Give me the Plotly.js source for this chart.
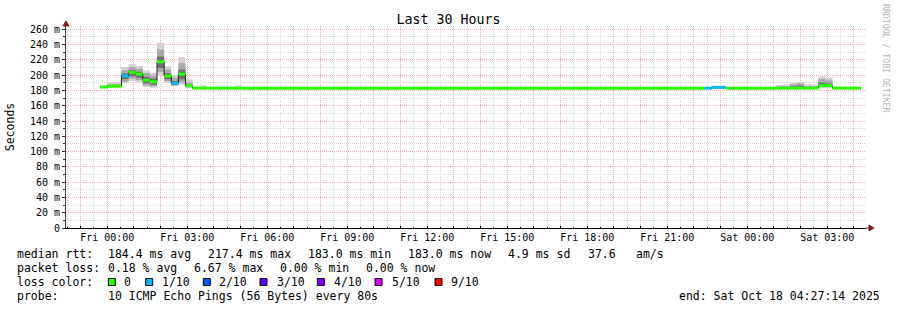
<!DOCTYPE html>
<html>
<head>
<meta charset="utf-8">
<script src="https://cdn.plot.ly/plotly-3.0.1.min.js"></script>
<style>html,body{margin:0;padding:0;background:#fff;}#chart{width:897px;height:310px;}</style>
</head>
<body>
<div id="chart"></div>
<script>
// ---------- data ----------
// start of each constant RRD interval (16-min steps, runs of equal values merged)
const stepStart = [
  '2025-10-16 23:44','2025-10-17 00:00','2025-10-17 00:16','2025-10-17 00:32','2025-10-17 00:48',
  '2025-10-17 01:04','2025-10-17 01:20','2025-10-17 01:36','2025-10-17 01:52','2025-10-17 02:08',
  '2025-10-17 02:24','2025-10-17 02:40','2025-10-17 02:56','2025-10-17 03:12','2025-10-17 03:28',
  '2025-10-17 03:44','2025-10-17 04:48','2025-10-17 05:04','2025-10-17 22:24','2025-10-17 22:40',
  '2025-10-17 23:12','2025-10-18 01:04','2025-10-18 01:20','2025-10-18 01:36','2025-10-18 01:52',
  '2025-10-18 02:08','2025-10-18 02:24','2025-10-18 02:40','2025-10-18 02:56','2025-10-18 03:12'
];
const dataEnd = '2025-10-18 04:16';
const windowStart = '2025-10-16 22:27:14';
const windowEnd = '2025-10-18 04:27:14';

// median rtt (ms)
const medianRtt = [184.5,185.5,185.5,199.2,203.5,201.3,193.4,191.3,217.4,198.7,
                   189.5,201.3,186.0,183.0,183.0,183.0,183.0,183.0,183.0,184.0,
                   183.0,183.0,183.0,183.0,183.0,183.0,183.0,186.3,186.3,183.0];
// lost pings out of 10
const lostPings = [0,0,0,1,0,0,0,0,0,0, 1,0,0,0,0,0,0,0,1,1, 0,0,0,0,0,0,0,0,0,0];
// smoke: sorted-ping envelopes (outer, middle, inner)
const smokeLo1 = [183.5,184.0,184.0,189.5,192.5,191.0,184.5,183.5,200.5,190.0,
                  185.5,187.5,183.5,183.0,183.0,183.0,183.0,183.0,183.0,183.0,
                  183.0,183.0,183.0,183.0,183.0,183.0,183.0,183.5,183.5,183.0];
const smokeLo2 = [184.0,184.5,184.5,191.5,195.5,193.5,186.5,185.5,204.5,192.5,
                  186.5,190.5,184.0,183.0,183.0,183.0,183.0,183.0,183.0,183.0,
                  183.0,183.0,183.0,183.0,183.0,183.0,183.0,184.0,184.0,183.0];
const smokeLo3 = [184.2,185.0,185.0,194.5,198.5,196.5,189.5,187.5,209.5,194.5,
                  187.5,194.5,184.5,183.0,183.0,183.0,183.0,183.0,183.0,183.5,
                  183.0,183.0,183.0,183.0,183.0,183.0,183.0,185.0,185.0,183.0];
const smokeHi3 = [185.0,186.5,186.5,202.5,206.5,204.5,197.5,195.5,224.5,202.5,
                  192.5,207.5,187.5,183.0,183.0,183.0,183.0,183.0,183.0,184.0,
                  183.0,183.0,183.0,185.5,186.0,183.0,183.0,190.0,189.0,183.0];
const smokeHi2 = [185.5,188.0,188.0,206.5,210.5,208.5,202.5,199.5,233.5,207.5,
                  196.5,215.5,190.5,183.0,184.0,183.0,184.0,183.0,183.0,184.5,
                  183.0,185.0,185.5,188.0,189.0,185.5,185.0,195.0,193.0,183.5];
const smokeHi1 = [186.5,190.5,191.0,210.5,214.5,212.0,206.0,203.0,242.5,211.5,
                  200.0,223.5,194.5,183.5,186.5,183.5,186.5,183.5,183.5,185.0,
                  183.5,187.0,188.0,190.0,191.0,188.0,187.5,198.5,197.0,184.0];

const lossLevels = [0,1,2,3,4,5,9];
const lossLabels = ['0','1/10','2/10','3/10','4/10','5/10','9/10'];
const lossColors = ['#26ff00','#00b8ff','#0059ff','#5e00ff','#7e00ff','#dd00ff','#ff0000'];

const yTickVals = [0,20,40,60,80,100,120,140,160,180,200,220,240,260];
const yTickText = ['0','20 m','40 m','60 m','80 m','100 m','120 m','140 m','160 m','180 m','200 m','220 m','240 m','260 m'];

const statsLine1 = [['median rtt:',16],['184.4 ms avg',107.3],['217.4 ms max',207.3],['183.0 ms min',307.3],
                    ['183.0 ms now',407.3],['4.9 ms sd',506.7],['37.6',586.7],['am/s',635]];
const statsLine2 = [['packet loss:',16],['0.18 % avg',107.3],['6.67 % max',192.7],['0.00 % min',279.3],['0.00 % now',365]];
const probeLine = [['probe:',16],['10 ICMP Echo Pings (56 Bytes) every 80s',107.3],['end: Sat Oct 18 04:27:14 2025',678.3]];
const swatchX = [108.3,145.7,203.3,260,317.3,375,435];
const swatchLabelX = [123.3,160.7,218.3,276,333.3,390.7,450];

// ---------- layout constants ----------
const FONT = 'DejaVu Sans Mono';
const W = 897, H = 310, ML = 66, MR = 31, MT = 26, MB = 82;
const PW = W - ML - MR, PH = H - MT - MB;
const px2x = p => (p - ML) / PW;
const py2y = p => (H - MB - p) / PH;

// ---------- x ticks: hourly grid, labels every 3 hours ----------
const dayNames = {16:'Thu',17:'Fri',18:'Sat'};
const xTickVals = [], xTickText = [];
for (let h = -1; h <= 28; h++) {
  const day = h < 0 ? 16 : (h < 24 ? 17 : 18);
  const hh = ((h % 24) + 24) % 24;
  const hs = String(hh).padStart(2,'0');
  xTickVals.push('2025-10-' + day + ' ' + hs + ':00');
  xTickText.push(hh % 3 === 0 ? dayNames[day] + ' ' + hs + ':00' : '');
}

// ---------- traces ----------
const n = stepStart.length;
const xs = stepStart.concat([dataEnd]);
const ext = a => a.concat([a[a.length-1]]);
const traces = [];
function band(lo, hi, color) {
  traces.push({x: xs, y: ext(lo), mode:'lines', line:{width:0, shape:'hv'}, hoverinfo:'skip', showlegend:false});
  traces.push({x: xs, y: ext(hi), mode:'lines', line:{width:0, shape:'hv'}, fill:'tonexty', fillcolor: color, hoverinfo:'skip', showlegend:false});
}
band(smokeLo1, smokeHi1, '#d2d2d2');
band(smokeLo2, smokeHi2, '#a8a8a8');
band(smokeLo3, smokeHi3, '#727272');

traces.push({x: xs, y: ext(medianRtt), mode:'lines', line:{color:'#202020', width:1, shape:'hv'}, hoverinfo:'skip', showlegend:false});

lossLevels.forEach((lv, k) => {
  const sx = [], sy = [];
  for (let i = 0; i < n; i++) {
    if (lostPings[i] !== lv) continue;
    sx.push(stepStart[i], i + 1 < n ? stepStart[i+1] : dataEnd, null);
    sy.push(medianRtt[i], medianRtt[i], null);
  }
  if (sx.length) traces.push({x: sx, y: sy, mode:'lines', line:{color: lossColors[k], width:3}, name: lossLabels[k], showlegend:false});
});

// ---------- annotations ----------
const annotations = [];
function txt(text, px, py, size, extra) {
  annotations.push(Object.assign({text, xref:'paper', yref:'paper', x: px2x(px - 1), y: py2y(py),
    xanchor:'left', yanchor:'middle', showarrow:false, font:{family:FONT, size: size || 11.5, color:'#000'}}, extra || {}));
}
statsLine1.forEach(([t, p]) => txt(t, p, 254));
statsLine2.forEach(([t, p]) => txt(t, p, 268));
txt('loss color:', 16, 282);
lossLabels.forEach((t, k) => txt(t, swatchLabelX[k], 282));
probeLine.forEach(([t, p]) => txt(t, p, 296));
annotations.push({text:'RRDTOOL / TOBI OETIKER', xref:'paper', yref:'paper', x: px2x(886), y: py2y(59),
  xanchor:'center', yanchor:'middle', textangle:90, showarrow:false, font:{family:FONT, size:8.2, color:'#b4b4b4'}});

// ---------- shapes: loss swatches and axis arrows ----------
const shapes = [];
lossColors.forEach((c, k) => {
  shapes.push({type:'rect', xref:'paper', yref:'paper', x0: px2x(swatchX[k]), x1: px2x(swatchX[k] + 7),
    y0: py2y(278.5), y1: py2y(285.5), fillcolor: c, line:{color:'#000', width:1}});
});
const arrowColor = '#7f1f1f';
shapes.push({type:'path', xref:'paper', yref:'paper', xsizemode:'pixel', ysizemode:'pixel', xanchor:1, yanchor:0,
  path:'M0,0 L3,0 M3,-3 L8,0 L3,3 Z', fillcolor: arrowColor, line:{color: arrowColor, width:1}, layer:'above'});
shapes.push({type:'path', xref:'paper', yref:'paper', xsizemode:'pixel', ysizemode:'pixel', xanchor:0, yanchor:1,
  path:'M-3,0 L3,0 L0,5 Z', fillcolor: arrowColor, line:{color: arrowColor, width:1}, layer:'above'});

const layout = {
  width: W, height: H,
  margin: {l: ML, r: MR, t: MT, b: MB, pad: 0},
  paper_bgcolor:'#ffffff', plot_bgcolor:'#ffffff',
  showlegend:false,
  font:{family:FONT, size:10, color:'#000'},
  title:{text:'Last 30 Hours', font:{family:FONT, size:13.3, color:'#000'}, x:0.5, xref:'container', xanchor:'center',
         y: 1 - 19.5/H, yref:'container', yanchor:'middle'},
  xaxis:{type:'date', range:[windowStart, windowEnd], tickmode:'array', tickvals:xTickVals, ticktext:xTickText,
         ticks:'inside', ticklen:2, tickcolor:'#000', tickwidth:1,
         showgrid:true, gridcolor:'#f3b0b0', griddash:'1px,1px', gridwidth:1,
         showline:true, linecolor:'#000', linewidth:1, zeroline:false, mirror:false,
         tickfont:{family:FONT, size:10, color:'#000'}, ticklabelstandoff:0,
         minor:{dtick:1800000, ticks:'inside', ticklen:1, tickcolor:'#000', showgrid:true, gridcolor:'#dadada', griddash:'1px,1px', gridwidth:1},
         fixedrange:true},
  yaxis:{range:[0,264.3], tickmode:'array', tickvals:yTickVals, ticktext:yTickText,
         ticks:'outside', ticklen:3, tickcolor:'#333', tickwidth:1,
         showgrid:true, gridcolor:'#f3b0b0', griddash:'1px,1px', gridwidth:1,
         showline:true, linecolor:'#444', linewidth:1, zeroline:false,
         tickfont:{family:FONT, size:10, color:'#000'},
         title:{text:'Seconds', font:{family:FONT, size:11.5, color:'#000'}, standoff:12},
         minor:{dtick:10, ticks:'outside', ticklen:2, tickcolor:'#333', showgrid:true, gridcolor:'#dadada', griddash:'1px,1px', gridwidth:1},
         fixedrange:true},
  annotations, shapes
};

Plotly.newPlot('chart', traces, layout, {displayModeBar:false, staticPlot:true});
</script>
</body>
</html>
